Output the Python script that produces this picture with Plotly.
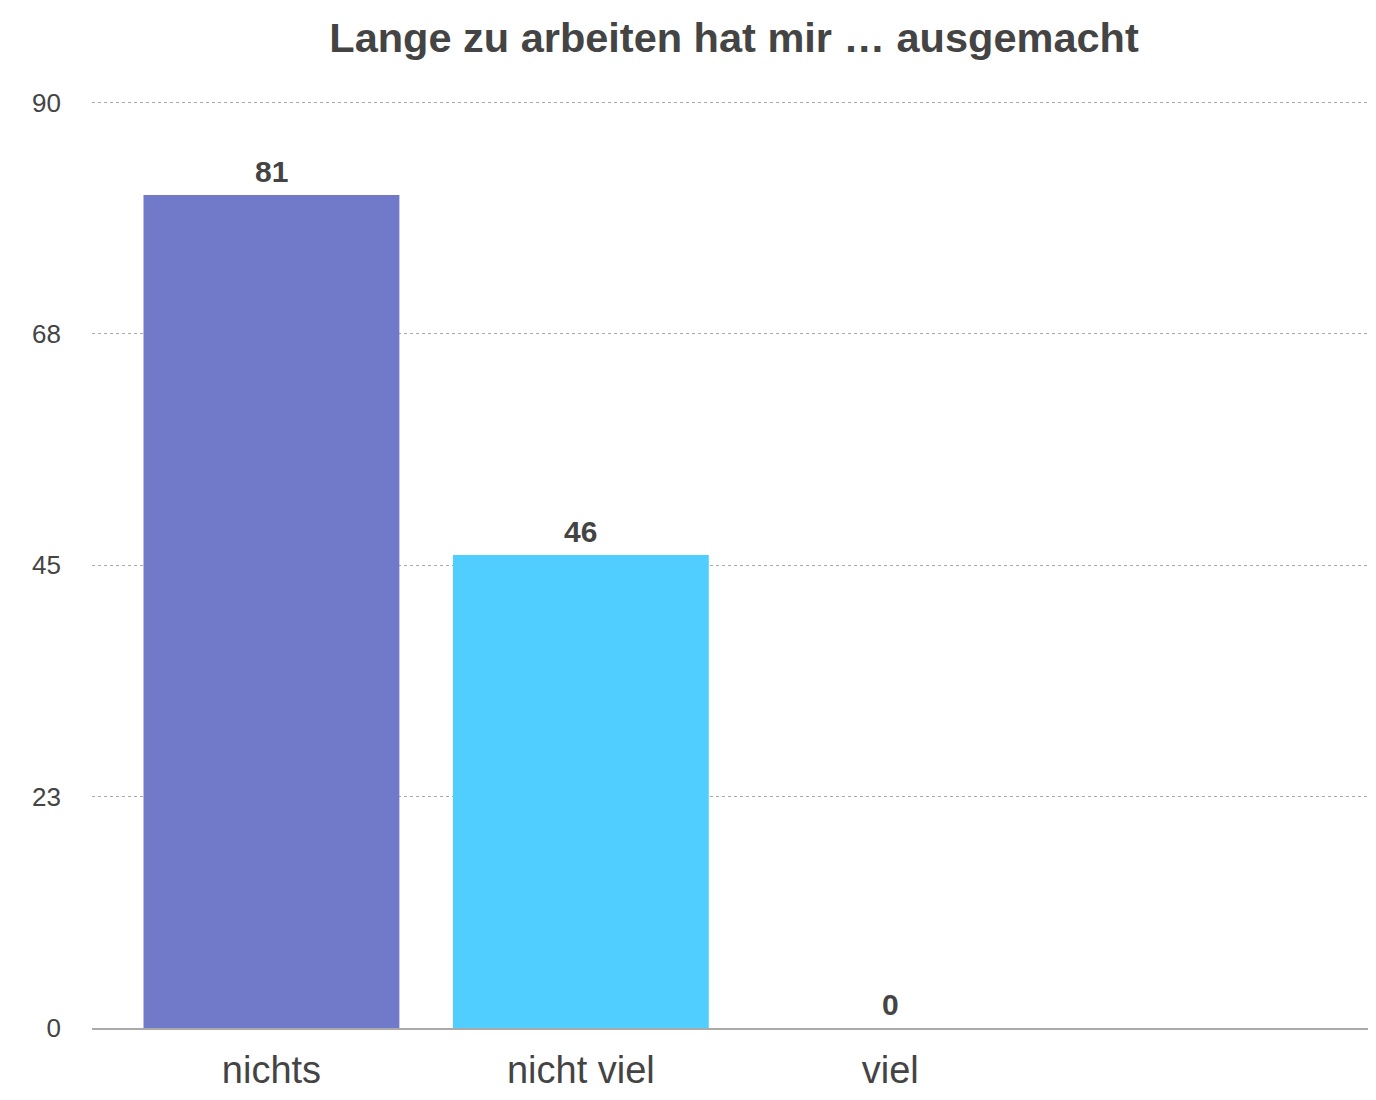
import plotly.graph_objects as go

categories = ["nichts", "nicht viel", "viel"]
values = [81, 46, 0]
bar_colors = ["#7179C9", "#4FCEFF", "#CCCCCC"]
y_tickvals = [0, 22.5, 45, 67.5, 90]
y_ticktext = ["0", "23", "45", "68", "90"]
title_text = "Lange zu arbeiten hat mir … ausgemacht"

FONT = "Liberation Sans, Arial, Helvetica, sans-serif"

fig = go.Figure(
    go.Bar(
        x=categories,
        y=values,
        marker=dict(color=bar_colors, line=dict(width=0)),
        hoverinfo="skip",
    )
)

for c, v in zip(categories, values):
    fig.add_annotation(
        x=c, y=v, xref="x", yref="y",
        text=str(v), showarrow=False,
        yanchor="bottom", yshift=5,
        font=dict(family=FONT, size=30, color="#444444", weight="bold"),
    )

fig.update_layout(
    width=1368,
    height=1092,
    margin=dict(l=84, r=0, t=93, b=72),
    paper_bgcolor="white",
    plot_bgcolor="white",
    showlegend=False,
    bargap=0.173,
    title=dict(
        text=title_text,
        x=0.5,
        xref="paper",
        y=1 - 29 / 1092,
        yref="container",
        xanchor="center",
        yanchor="middle",
        font=dict(family=FONT, size=41.5, color="#444444", weight="bold"),
    ),
    font=dict(family=FONT, color="#444444"),
)

fig.update_xaxes(
    type="category",
    range=[-0.58, 3.57],
    showgrid=False,
    showline=True,
    linecolor="#AAAAAA",
    linewidth=1.5,
    ticks="",
    tickfont=dict(family=FONT, size=38, color="#444444"),
    ticklabelstandoff=8,
    zeroline=False,
)

fig.update_yaxes(
    range=[0, 90.15],
    tickmode="array",
    tickvals=y_tickvals,
    ticktext=y_ticktext,
    showgrid=True,
    gridcolor="#AAAAAA",
    griddash="dot",
    gridwidth=1,
    zeroline=False,
    showline=False,
    ticks="",
    tickfont=dict(family=FONT, size=26, color="#444444"),
    ticklabelstandoff=30,
)

fig.write_html("out.html")
